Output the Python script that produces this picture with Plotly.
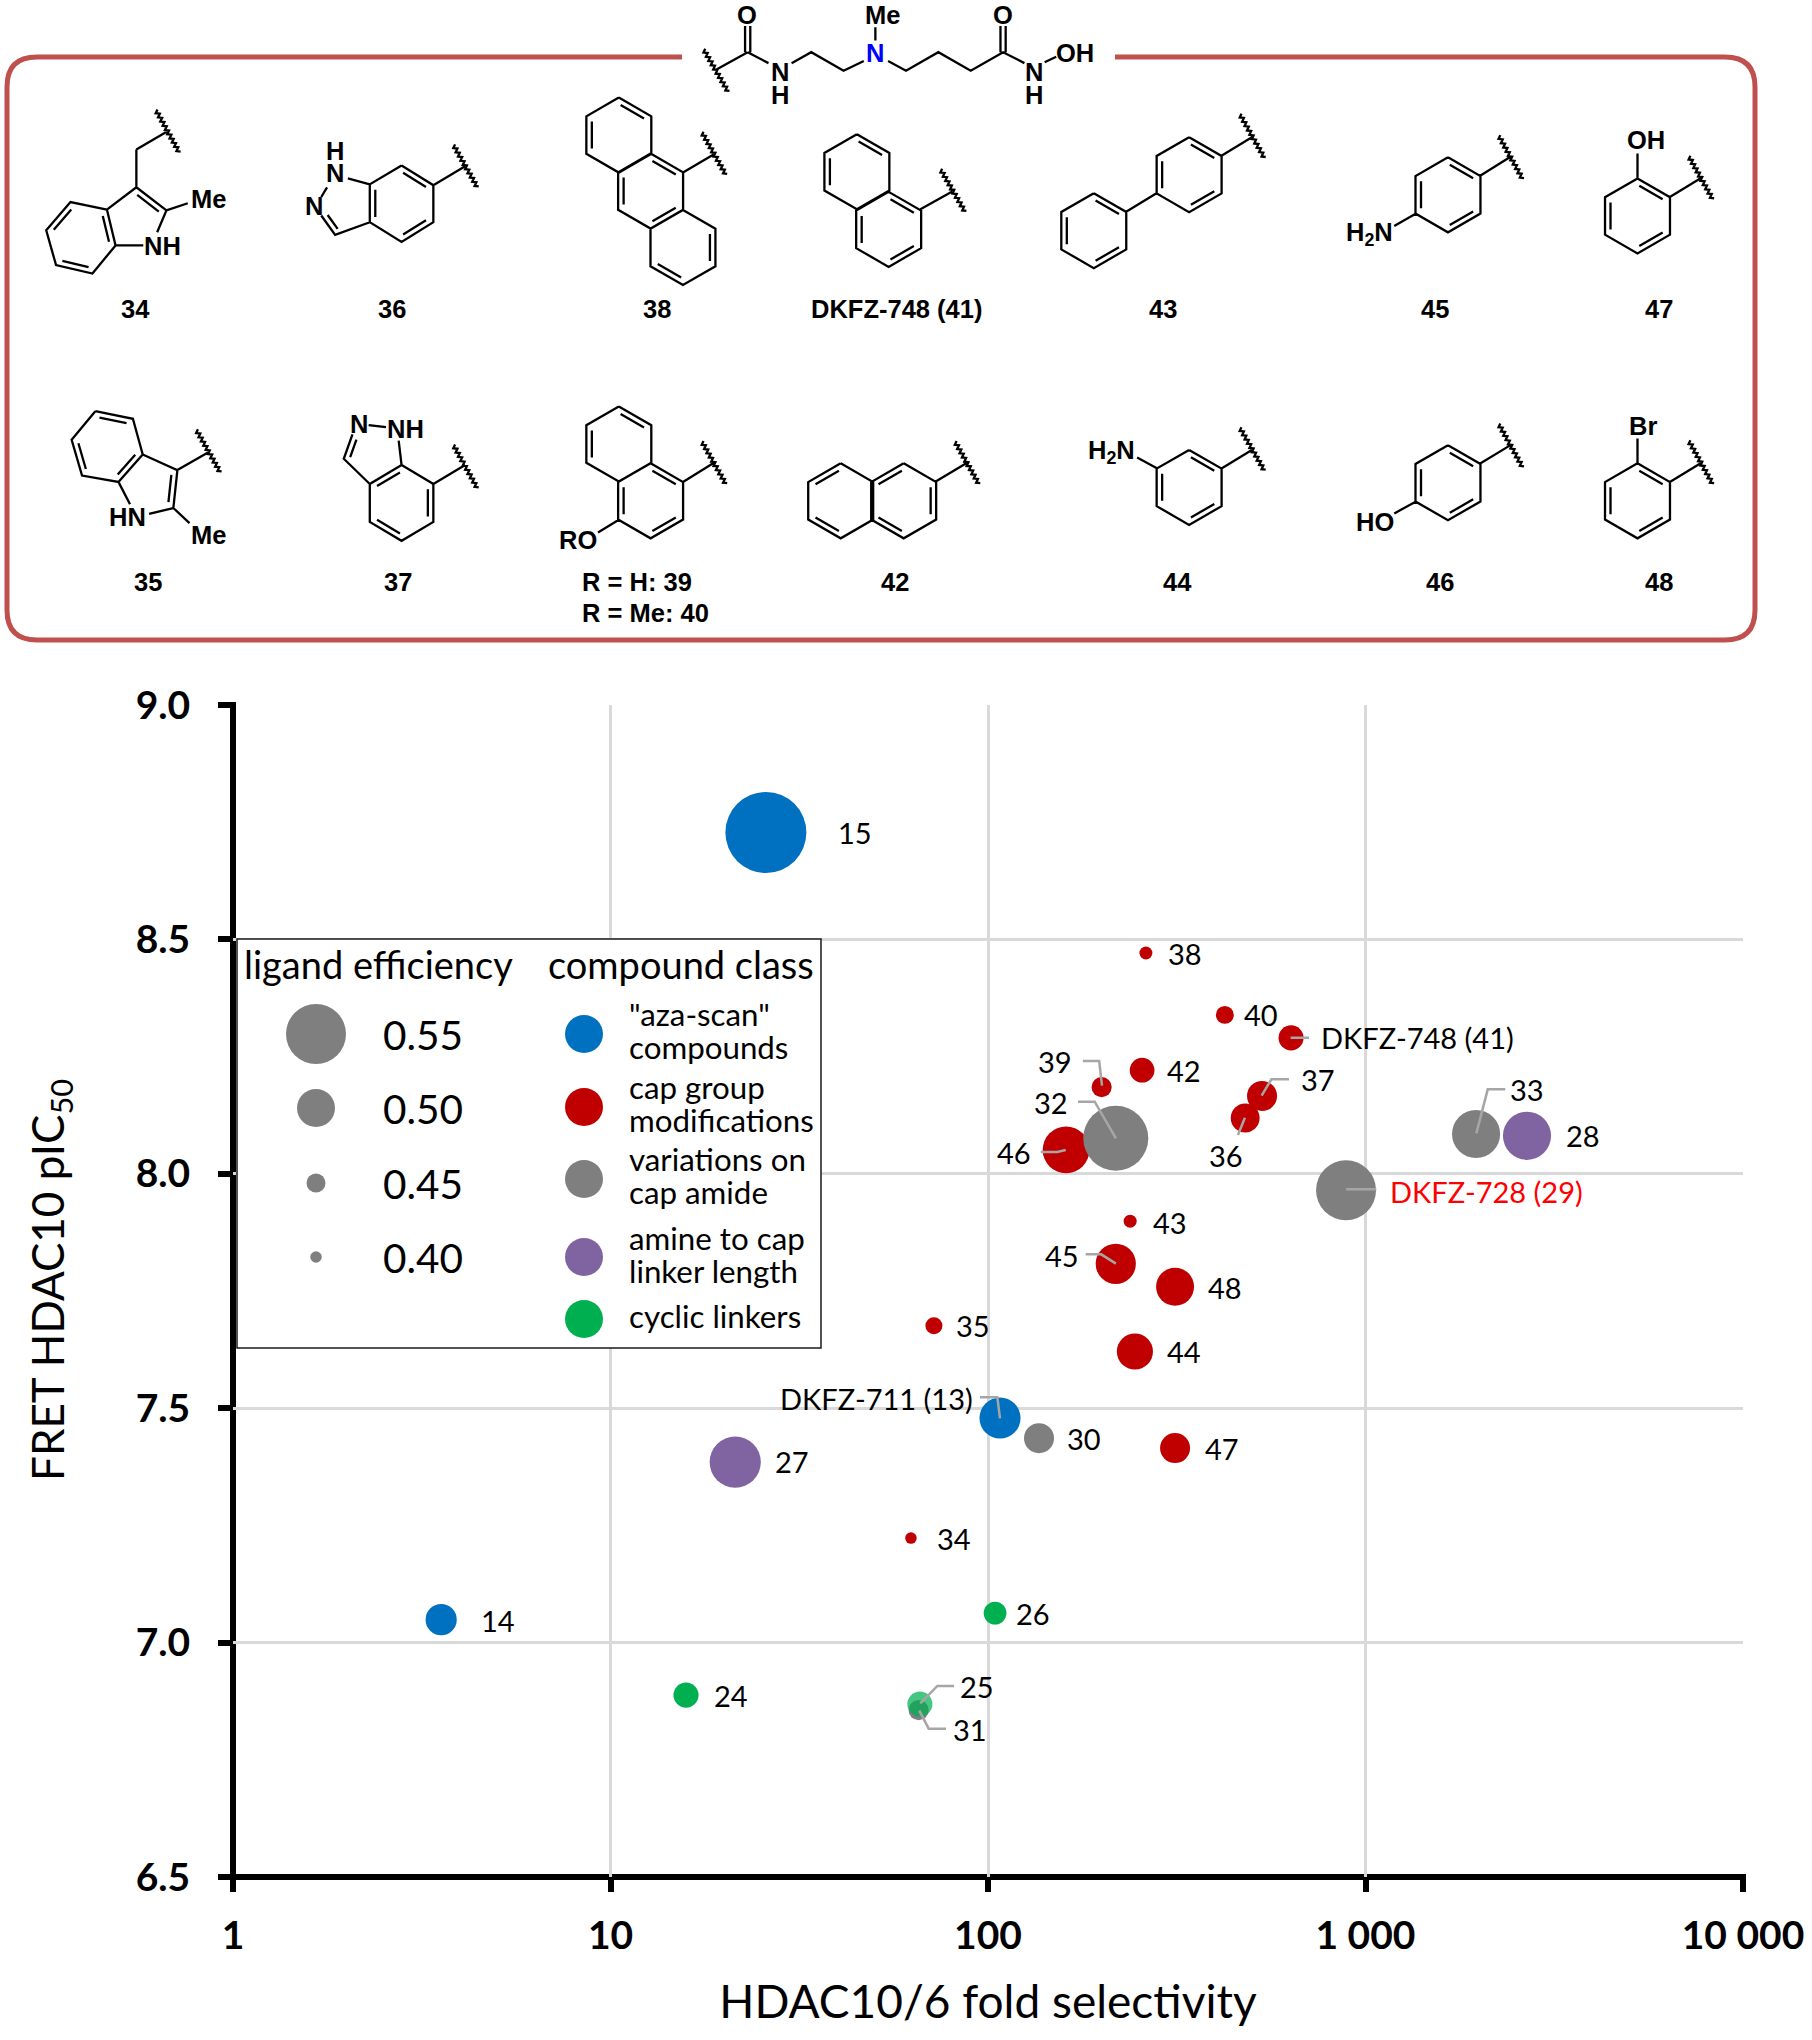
import numpy as np
import plotly.graph_objects as go

W, H = 1812, 2040
L, R, T, B = 233, 1743, 705, 1877

# ---------- data ----------
CLASS_NAMES = ['"aza-scan" compounds', 'cap group modifications', 'variations on cap amide',
               'amine to cap linker length', 'cyclic linkers']
CLASS_COLORS = ['#0070c0', '#c00000', '#7f7f7f', '#8064a2', '#00b050']

aza_ids = ['15', '13', '14']
aza_sel = [25.8, 107.6, 3.56]
aza_pic = [8.728, 7.479, 7.049]
aza_le = [0.600, 0.507, 0.482]

cap_ids = ['38', '40', '41', '39', '42', '37', '36', '46', '43', '45', '48', '44', '35', '47', '34']
cap_sel = [262, 424, 635, 200, 256, 532, 480, 161, 238, 218, 313, 245, 71.9, 313, 62.5]
cap_pic = [8.471, 8.339, 8.290, 8.185, 8.221, 8.166, 8.119, 8.051, 7.899, 7.808, 7.759, 7.621, 7.676, 7.415, 7.223]
cap_le = [0.41, 0.443, 0.466, 0.453, 0.465, 0.479, 0.476, 0.52, 0.41, 0.505, 0.50, 0.495, 0.437, 0.479, 0.40]

var_ids = ['32', '33', '29', '30', '31']
var_sel = [218, 1963, 888, 136.5, 65.5]
var_pic = [8.076, 8.085, 7.965, 7.436, 6.856]
var_le = [0.562, 0.523, 0.55, 0.479, 0.453]

amine_ids = ['28', '27']
amine_sel = [2678, 21.4]
amine_pic = [8.081, 7.385]
amine_le = [0.523, 0.53]

cyc_ids = ['26', '24', '25']
cyc_sel = [104.4, 15.85, 66]
cyc_pic = [7.063, 6.888, 6.869]
cyc_le = [0.46, 0.466, 0.466]
cyc_opacity = [1, 1, 0.72]

LE_STOPS = [0.40, 0.45, 0.50, 0.55, 0.60]
DIA_STOPS = [11.5, 19, 38, 60, 81]

X_TICKS = [1, 10, 100, 1000, 10000]
X_TICK_TEXT = ['1', '10', '100', '1 000', '10 000']
Y_TICKS = [6.5, 7.0, 7.5, 8.0, 8.5, 9.0]

LEGEND_LE = ['0.55', '0.50', '0.45', '0.40']
LEGEND_LINES = [['"aza-scan"', 'compounds'], ['cap group', 'modifications'],
                ['variations on', 'cap amide'], ['amine to cap', 'linker length'], ['cyclic linkers']]

# ---------- helpers ----------
def px(x):
    return (x - L) / (R - L)

def py(y):
    return (B - y) / (B - T)

za = lambda x, y: (x / 1.7307, y / 2.376)
zb = lambda x, y: (906 + x / 1.7307, y / 2.376)
zc = lambda x, y: (1000 + x / 2.45, 920 + y / 3)
zd = lambda x, y: (800 + x / 3, 1350 + y / 3)

annotations = []
def note(x, y, text, size=29, color='black', anchor='center', font='Lato', bold=False, angle=0):
    annotations.append(dict(x=px(x), y=py(y), xref='paper', yref='paper', text=('<b>%s</b>' % text) if bold else text,
                            showarrow=False, xanchor=anchor, yanchor='middle', borderpad=0, textangle=angle,
                            font=dict(family=font, size=size, color=color)))

segs = []
def poly(*pts):
    segs.append(list(pts))

def dbl(p, q, center, off=5.5, trim=0.14):
    d = np.array(q) - np.array(p)
    n = np.array([-d[1], d[0]]) / np.hypot(*d)
    mid = (np.array(p) + np.array(q)) / 2
    if np.dot(np.array(center) - mid, n) < 0:
        n = -n
    a = np.array(p) + d * trim + n * off
    b = np.array(q) - d * trim + n * off
    poly(tuple(a), tuple(b))

def squiggle(p, q, step=2.4, amp=1.7):
    p = np.array(p); q = np.array(q)
    d = q - p
    ln = np.hypot(*d)
    n = np.array([-d[1], d[0]]) / ln
    k = int(ln / step)
    pts = []
    for i in range(k + 1):
        pts.append(tuple(p + d * i / k + n * amp * (1 if i % 2 else -1)))
    poly(*pts)

RR = 37.5
def ring(c, doubles=()):
    cx, cy = c
    vs = [(cx + RR * np.sin(np.pi / 3 * i), cy - RR * np.cos(np.pi / 3 * i)) for i in range(6)]
    poly(*vs, vs[0])
    for e in doubles:
        dbl(vs[e], vs[(e + 1) % 6], c)
    return vs

def atoms(conv, pts, closed=False):
    ps = [conv(*p) for p in pts]
    poly(*(ps + ([ps[0]] if closed else [])))
    return ps

def attach(conv, s1, s2, b1, b2):
    squiggle(conv(*s1), conv(*s2))
    poly(conv(*b1), conv(*b2))

A = 25.5  # atom label size
def atom(conv, x, y, t, color='black', anchor='center'):
    X, Y = conv(x, y)
    note(X, Y, t, size=A, color=color, font='Liberation Sans', bold=True, anchor=anchor)

def caption(conv, x, y, t):
    X, Y = conv(x, y)
    note(X, Y, t, size=A, font='Liberation Sans', bold=True)

# ---------- header linker ----------
attach(za, (1218, 118), (1260, 218), (1240, 165), (1294, 124))
atoms(za, [(1294, 124), (1330, 150)])
O1 = za(1294, 124); O2 = za(1294, 62)
poly((O1[0] - 2.6, O1[1]), (O2[0] - 2.6, O2[1])); poly((O1[0] + 2.6, O1[1]), (O2[0] + 2.6, O2[1]))
atom(za, 1292, 35, 'O'); atom(za, 1350, 170, 'N'); atom(za, 1350, 225, 'H')
atoms(za, [(1370, 150), (1404, 124), (1460, 168), (1495, 145)])
atom(za, 1515, 125, 'N', color='#0000ff'); atom(za, 1528, 35, 'Me')
atoms(za, [(1515, 65), (1515, 96)])
poly(za(1537, 145), zb(0, 168), zb(56, 124), zb(112, 168), zb(168, 124), zb(205, 150))
O1 = zb(168, 124); O2 = zb(168, 62)
poly((O1[0] - 2.6, O1[1]), (O2[0] - 2.6, O2[1])); poly((O1[0] + 2.6, O1[1]), (O2[0] + 2.6, O2[1]))
atom(zb, 168, 35, 'O'); atom(zb, 222, 170, 'N'); atom(zb, 222, 225, 'H'); atom(zb, 293, 125, 'OH')
atoms(zb, [(240, 148), (260, 135)])

# ---------- 34 ----------
attach(za, (270, 262), (310, 362), (290, 312), (236, 355))
atoms(za, [(236, 355), (236, 445)])
b = atoms(za, [(185, 498), (200, 583), (160, 650), (97, 630), (80, 547), (122, 480)], True)
c = tuple(np.mean(b, axis=0))
dbl(b[0], b[1], c); dbl(b[2], b[3], c); dbl(b[4], b[5], c)
f = atoms(za, [(272, 552), (288, 500), (236, 445), (185, 498)])
dbl(f[1], f[2], za(225, 530))
atoms(za, [(200, 583), (248, 583)])
atoms(za, [(288, 500), (325, 483)])
atom(za, 361, 472, 'Me'); atom(za, 282, 585, 'NH'); caption(za, 235, 733, '34')

# ---------- 36 ----------
v = atoms(za, [(695, 393), (750, 440), (750, 528), (695, 575), (640, 528), (640, 438)], True)
c = tuple(np.mean(v, axis=0))
dbl(v[0], v[1], c); dbl(v[2], v[3], c); dbl(v[4], v[5], c)
attach(za, (785, 345), (826, 445), (750, 440), (805, 395))
atoms(za, [(640, 438), (602, 424)]); atoms(za, [(566, 445), (556, 468)])
g = atoms(za, [(556, 512), (580, 558), (640, 528)])
dbl(g[0], g[1], za(610, 480))
atom(za, 580, 358, 'H'); atom(za, 580, 412, 'N'); atom(za, 543, 490, 'N'); caption(za, 678, 733, '36')

# ---------- 38 ----------
ring(za(1071, 321), (0, 4)); ring(za(1126, 454), (0, 2, 4)); ring(za(1182, 588), (1, 3))
attach(za, (1215, 315), (1256, 415), (1182, 410), (1235, 367))
caption(za, 1137, 733, '38')

# ---------- 41 ----------
ring(za(1483, 408), (0, 4)); ring(za(1538, 545), (0, 2, 4))
attach(zb, (60, 403), (102, 503), (25, 497), (80, 455))
note(896, 309, 'DKFZ-748 (41)', size=A, font='Liberation Sans', bold=True)

# ---------- 43 ----------
ring(zb(490, 415), (0, 2, 4)); ring(zb(325, 548), (0, 2, 4))
poly(zb(381, 503), zb(435, 458))
attach(zb, (578, 272), (620, 375), (546, 370), (600, 325))
caption(zb, 445, 733, '43')

# ---------- 45 ----------
ring(zb(938, 463), (0, 2, 4))
attach(zb, (1026, 323), (1067, 425), (993, 418), (1047, 372))
atoms(zb, [(882, 508), (845, 537)])
atom(zb, 803, 555, 'H<sub>2</sub>N'); caption(zb, 916, 733, '45')

# ---------- 47 ----------
ring(zb(1266, 513), (0, 2, 4))
attach(zb, (1355, 372), (1396, 473), (1322, 468), (1376, 423))
atoms(zb, [(1266, 423), (1266, 365)])
atom(zb, 1281, 333, 'OH'); caption(zb, 1303, 733, '47')

# ---------- 35 ----------
b = atoms(za, [(165, 977), (230, 995), (247, 1080), (205, 1145), (142, 1130), (124, 1045)], True)
c = tuple(np.mean(b, axis=0))
dbl(b[0], b[1], c); dbl(b[2], b[3], c); dbl(b[4], b[5], c)
f = atoms(za, [(247, 1080), (307, 1117), (300, 1207), (258, 1221)])
dbl(f[1], f[2], za(240, 1170))
atoms(za, [(205, 1145), (225, 1198)])
atoms(za, [(300, 1207), (328, 1243)])
attach(za, (340, 1022), (381, 1122), (307, 1117), (360, 1075))
atom(za, 220, 1228, 'HN'); atom(za, 361, 1270, 'Me'); caption(za, 256, 1382, '35')

# ---------- 37 ----------
v = atoms(za, [(695, 1105), (750, 1150), (750, 1240), (695, 1285), (640, 1240), (640, 1150)], True)
c = tuple(np.mean(v, axis=0))
dbl(v[1], v[2], c); dbl(v[3], v[4], c); dbl(v[5], v[0], c)
attach(za, (785, 1058), (826, 1160), (750, 1150), (805, 1105))
atoms(za, [(695, 1105), (690, 1047)]); atoms(za, [(638, 1010), (668, 1015)])
g = atoms(za, [(610, 1032), (595, 1090), (640, 1150)])
dbl(g[0], g[1], za(660, 1090))
atom(za, 622, 1007, 'N'); atom(za, 702, 1020, 'NH'); caption(za, 688, 1382, '37')

# ---------- 39/40 ----------
ring(za(1071, 1055), (0, 4)); ring(za(1126, 1190), (0, 2, 4))
attach(za, (1215, 1050), (1256, 1150), (1182, 1145), (1235, 1100))
atoms(za, [(1071, 1235), (1035, 1265)])
atom(za, 1000, 1283, 'RO')
X, Y = za(1005, 1382); note(X, Y, 'R = H: 39', size=A, font='Liberation Sans', bold=True, anchor='left')
X, Y = za(1005, 1457); note(X, Y, 'R = Me: 40', size=A, font='Liberation Sans', bold=True, anchor='left')

# ---------- 42 ----------
ring(za(1455, 1190), (3, 5)); ring(za(1564, 1190), (1, 3, 5))
attach(zb, (85, 1050), (126, 1150), (50, 1145), (105, 1100))
note(895, 582, '42', size=A, font='Liberation Sans', bold=True)

# ---------- 44 ----------
ring(zb(490, 1158), (0, 2, 4))
attach(zb, (578, 1017), (620, 1118), (546, 1113), (600, 1068))
atoms(zb, [(435, 1113), (400, 1087)])
atom(zb, 355, 1073, 'H<sub>2</sub>N'); caption(zb, 470, 1382, '44')

# ---------- 46 ----------
ring(zb(938, 1147), (0, 2, 4))
attach(zb, (1026, 1008), (1067, 1110), (993, 1102), (1047, 1057))
atoms(zb, [(882, 1192), (845, 1220)])
atom(zb, 812, 1240, 'HO'); caption(zb, 924, 1382, '46')

# ---------- 48 ----------
ring(zb(1266, 1190), (0, 2, 4))
attach(zb, (1355, 1048), (1396, 1150), (1322, 1145), (1376, 1100))
atoms(zb, [(1266, 1100), (1266, 1042)])
atom(zb, 1276, 1012, 'Br'); caption(zb, 1303, 1382, '48')

def to_path(seglist):
    parts = []
    for s in seglist:
        parts.append('M%.5f,%.5f' % (px(s[0][0]), py(s[0][1])) + ''.join('L%.5f,%.5f' % (px(a), py(b)) for a, b in s[1:]))
    return ' '.join(parts)

shapes = []
# red frame
bl, bt, br, bb, rd = 7, 57, 1755, 640, 30
def P(x, y): return '%.5f,%.5f' % (px(x), py(y))
frame = ('M' + P(1115, bt) + 'L' + P(br - rd, bt) + 'Q' + P(br, bt) + ' ' + P(br, bt + rd) + 'L' + P(br, bb - rd) +
         'Q' + P(br, bb) + ' ' + P(br - rd, bb) + 'L' + P(bl + rd, bb) + 'Q' + P(bl, bb) + ' ' + P(bl, bb - rd) +
         'L' + P(bl, bt + rd) + 'Q' + P(bl, bt) + ' ' + P(bl + rd, bt) + 'L' + P(682, bt))
shapes.append(dict(type='path', path=frame, xref='paper', yref='paper', line=dict(color='#c0504d', width=5)))
shapes.append(dict(type='path', path=to_path(segs), xref='paper', yref='paper', line=dict(color='black', width=2.3)))

# axis lines (drawn centred on the plot edges)
shapes.append(dict(type='line', xref='paper', yref='paper', x0=0, x1=0, y0=py(T - 3), y1=py(B + 3), line=dict(color='black', width=6), layer='below'))
shapes.append(dict(type='line', xref='paper', yref='paper', x0=px(L - 3), x1=px(R + 3), y0=0, y1=0, line=dict(color='black', width=6), layer='below'))

# legend box
shapes.append(dict(type='rect', xref='paper', yref='paper', x0=px(237), x1=px(821), y0=py(939), y1=py(1348),
                   fillcolor='white', line=dict(color='#1a1a1a', width=1.5)))
def circ(x, y, d, col):
    shapes.append(dict(type='circle', xref='paper', yref='paper', x0=px(x - d / 2), x1=px(x + d / 2),
                       y0=py(y - d / 2), y1=py(y + d / 2), fillcolor=col, line=dict(width=0)))

note(243, 964, 'ligand efficiency', size=38, anchor='left')
note(547, 964, 'compound class', size=38, anchor='left')
for t, y, d in zip(LEGEND_LE, [1034, 1108, 1183, 1257], [60, 38, 19, 11.5]):
    circ(316, y, d, '#7f7f7f')
    note(382, y, t, size=40.5, anchor='left')
for col, y in zip(CLASS_COLORS, [1034, 1107, 1179, 1257, 1319]):
    circ(584, y, 38, col)
for lines, ys in zip(LEGEND_LINES, [[1014, 1047], [1087, 1120], [1159, 1192], [1238, 1271], [1316]]):
    for t, y in zip(lines, ys):
        note(628, y, t, size=31.3, anchor='left')

# leader lines
lead = []
for conv, pts in [(zc, [(712, 353), (757, 353)]), (zc, [(203, 423), (243, 423), (250, 497)]),
                  (zc, [(191, 545), (232, 545), (284, 655)]), (zc, [(100, 696), (140, 696), (161, 690)]),
                  (zc, [(708, 478), (665, 478), (641, 527)]), (zc, [(583, 645), (600, 593)]),
                  (zc, [(1238, 508), (1195, 508), (1167, 640)]), (zc, [(848, 808), (922, 808)]),
                  (zc, [(210, 1003), (248, 1003), (284, 1031)]),
                  (zd, [(540, 142), (592, 142), (600, 205)]), (zd, [(462, 1008), (412, 1008), (361, 1060)]),
                  (zd, [(438, 1136), (386, 1136), (358, 1082)])]:
    lead.append([conv(*p) for p in pts])
shapes.append(dict(type='path', path=to_path(lead), xref='paper', yref='paper', line=dict(color='#a6a6a6', width=2.5)))

# compound labels
LABELS = {'15': (855, 832), '38': (1185, 953), '40': (1261, 1014), '39': (1055, 1061), '42': (1184, 1070),
          '32': (1051, 1102), '37': (1318, 1079), '36': (1226, 1155), '46': (1014, 1152), '33': (1527, 1089),
          '28': (1583, 1135), '43': (1170, 1222), '45': (1062, 1255), '48': (1225, 1287), '44': (1184, 1351),
          '35': (973, 1325), '30': (1084, 1438), '47': (1222, 1448), '34': (954, 1538), '26': (1033, 1613),
          '25': (977, 1686), '31': (970, 1729), '27': (792, 1461), '14': (498, 1620), '24': (731, 1695)}
for t, (x, y) in LABELS.items():
    note(x, y, t, size=29)
note(1320, 1037, 'DKFZ-748 (41)', size=29, anchor='left')
note(1389, 1191, 'DKFZ-728 (29)', size=29, color='#ff0000', anchor='left')
note(974, 1398, 'DKFZ-711 (13)', size=29, anchor='right')

# y-axis title
note(50, 1280, 'FRET HDAC10 pIC<sub>50</sub>', size=44, angle=-90)

# ---------- figure ----------
fig = go.Figure()
def add(name, ids, xs, ys, les, color, op=None):
    fig.add_trace(go.Scatter(x=xs, y=ys, mode='markers', name=name, text=ids, showlegend=False,
                             marker=dict(size=np.interp(les, LE_STOPS, DIA_STOPS), sizemode='diameter', color=color,
                                         opacity=op if op is not None else 1, line=dict(width=0))))
add(CLASS_NAMES[0], aza_ids, aza_sel, aza_pic, aza_le, CLASS_COLORS[0])
add(CLASS_NAMES[1], cap_ids, cap_sel, cap_pic, cap_le, CLASS_COLORS[1])
add(CLASS_NAMES[2], var_ids, var_sel, var_pic, var_le, CLASS_COLORS[2])
add(CLASS_NAMES[3], amine_ids, amine_sel, amine_pic, amine_le, CLASS_COLORS[3])
add(CLASS_NAMES[4], cyc_ids, cyc_sel, cyc_pic, cyc_le, CLASS_COLORS[4], cyc_opacity)

tickfont = dict(family='Lato', size=39, color='black', weight='bold')
fig.update_layout(
    width=W, height=H, autosize=False, paper_bgcolor='white', plot_bgcolor='white',
    margin=dict(l=L, r=W - R, t=T, b=H - B, pad=0, autoexpand=False),
    shapes=shapes, annotations=annotations,
    xaxis=dict(type='log', range=[0, 4], tickvals=X_TICKS, ticktext=X_TICK_TEXT, showgrid=True, gridcolor='#d9d9d9',
               gridwidth=2.5, zeroline=False, showline=False, ticks='outside', automargin=False,
               ticklen=14, tickwidth=6, tickcolor='black', tickfont=tickfont, ticklabelstandoff=10,
               title=dict(text='HDAC10/6 fold selectivity', standoff=30, font=dict(family='Lato', size=46, color='black'))),
    yaxis=dict(range=[6.5, 9], tickvals=Y_TICKS, tickformat='.1f', showgrid=True, gridcolor='#d9d9d9',
               gridwidth=2.5, zeroline=False, showline=False, ticks='outside', automargin=False,
               ticklen=14, tickwidth=6, tickcolor='black', tickfont=tickfont, ticklabelstandoff=20),
)
fig.write_html('out.html', config=dict(displayModeBar=False),
               post_script="document.body.style.margin='0';document.body.style.overflow='hidden';")
